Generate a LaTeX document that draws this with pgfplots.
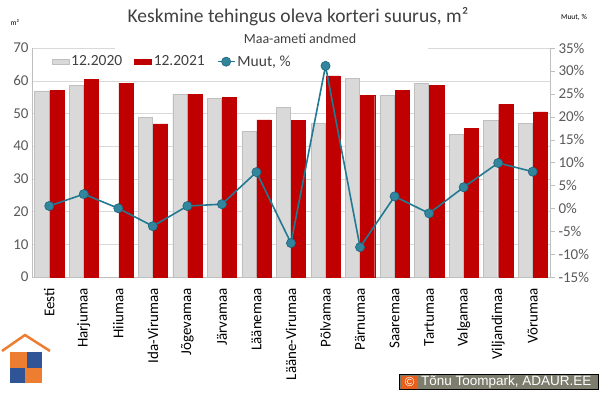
\documentclass[border=0pt]{standalone}
\usepackage{fontspec}
\setmainfont{Carlito}
\newfontfamily\cfont{Liberation Sans}
\usepackage{pgfplots}
\pgfplotsset{compat=1.18}
\definecolor{cgray}{HTML}{D9D9D9}
\definecolor{cgrayb}{HTML}{BFBFBF}
\definecolor{cred}{HTML}{C00000}
\definecolor{cline}{RGB}{33,122,145}
\definecolor{cmark}{RGB}{49,133,156}
\definecolor{cmarkb}{RGB}{30,100,122}
\definecolor{ctxt}{HTML}{404040}
\definecolor{ctick}{HTML}{595959}
\definecolor{cgrid}{HTML}{D9D9D9}
\definecolor{corange}{RGB}{237,125,49}
\definecolor{cblue}{RGB}{47,85,151}
\definecolor{cbox}{RGB}{125,125,110}
\definecolor{ccopy}{RGB}{232,96,28}
\begin{document}
\begin{tikzpicture}
\path[use as bounding box] (0pt,0pt) rectangle (600pt,392pt);
\begin{axis}[
  at={(32pt,115pt)}, anchor=south west, scale only axis,
  width=518pt, height=229pt,
  xmin=-0.5, xmax=14.5, ymin=0, ymax=70,
  ytick={0,10,...,70},
  xtick={0,...,14},
  xticklabels={Eesti,Harjumaa,Hiiumaa,Ida-Virumaa,Jõgevamaa,Järvamaa,Läänemaa,Lääne-Virumaa,Põlvamaa,Pärnumaa,Saaremaa,Tartumaa,Valgamaa,Viljandimaa,Võrumaa},
  xticklabel style={rotate=90, anchor=east, font=\fontsize{15}{17}\selectfont, text=black, inner xsep=11pt},
  yticklabel style={font=\fontsize{15}{17}\selectfont, text=ctick},
  /pgf/number format/assume math mode=true,
  ybar=1pt, bar width=0.41,
  axis x line*=bottom, axis y line*=left,
  axis line style={draw=cgrayb},
  major tick length=0pt,
  ymajorgrids, grid style={draw=cgrid},
]
\addplot[fill=cgray, draw=cgrayb] coordinates {(0,56.9) (1,58.6) (3,48.7) (4,55.9) (5,54.6) (6,44.5) (7,51.9) (8,47.1) (9,60.8) (10,55.6) (11,59.2) (12,43.6) (13,47.9) (14,46.9)};
\addplot[fill=cred, draw=cred] coordinates {(0,57.0) (1,60.4) (2,59.3) (3,46.8) (4,55.9) (5,55.0) (6,48.0) (7,47.8) (8,61.5) (9,55.6) (10,57.0) (11,58.5) (12,45.5) (13,52.8) (14,50.5)};
\end{axis}
\fill[white] (115pt,341pt) rectangle (428pt,347pt);
\begin{axis}[
  at={(32pt,115pt)}, anchor=south west, scale only axis,
  width=518pt, height=229pt,
  xmin=-0.5, xmax=14.5, ymin=-15, ymax=35,
  ytick={-15,-10,...,35},
  yticklabel={\pgfmathprintnumber{\tick}\%},
  yticklabel style={font=\fontsize{15}{17}\selectfont, text=ctick},
  /pgf/number format/assume math mode=true,
  axis y line*=right, axis x line=none,
  axis line style={draw=cgrayb},
  ytick style={draw=cgrayb},
  major tick length=5pt, tick align=outside,
  legend style={at={(0.032,0.985)}, anchor=north west, draw=none, fill=none,
    font=\fontsize{15.5}{17}\selectfont, text=ctxt,
    /tikz/every even column/.append style={column sep=10pt}},
  legend columns=-1,
]
\addlegendimage{area legend, fill=cgray, draw=cgrayb}
\addlegendentry{12.2020}
\addlegendimage{area legend, fill=cred, draw=cred}
\addlegendentry{12.2021}
\addplot[color=cline, line width=1.6pt, mark=*, mark size=4.6pt,
  mark options={fill=cmark, draw=cmarkb, line width=0.6pt}]
  coordinates {(0,0.5) (1,3.1) (2,0) (3,-3.9) (4,0.5) (5,0.9) (6,7.9) (7,-7.6) (8,31.1) (9,-8.5) (10,2.6) (11,-1.1) (12,4.6) (13,9.9) (14,8.0)};
\addlegendentry{Muut, \%}
\end{axis}
% titles
\node[text=ctxt, font=\fontsize{19.5}{21}\selectfont] at (298pt,375pt) {Keskmine tehingus oleva korteri suurus, m²};
\node[text=ctxt, font=\fontsize{14}{16}\selectfont] at (300pt,353pt) {Maa-ameti andmed};
\node[text=black, font=\fontsize{7.5}{9}\selectfont] at (15pt,369pt) {m²};
\node[text=black, font=\fontsize{7.5}{9}\selectfont] at (574pt,375pt) {Muut, \%};
% logo
\fill[corange] (10pt,24pt) rectangle (27pt,40pt);
\fill[cblue] (27pt,24pt) rectangle (42pt,40pt);
\fill[cblue] (10pt,9pt) rectangle (25pt,24pt);
\fill[corange] (25pt,9pt) rectangle (42pt,24pt);
\draw[corange, line width=2.5pt] (2pt,41pt) -- (25pt,57pt) -- (50pt,41pt);
% copyright
\fill[black] (399pt,2pt) rectangle (599pt,18pt);
\fill[cbox] (400pt,3pt) rectangle (598pt,17pt);
\fill[ccopy] (401.5pt,3.5pt) rectangle (418pt,16.5pt);
\node[text=white, font=\cfont\fontsize{13}{14}\selectfont, inner sep=0pt] at (409.7pt,10pt) {©};
\node[text=white, font=\cfont\fontsize{13.5}{14}\selectfont, inner sep=0pt, anchor=west] at (421pt,10pt) {Tõnu Toompark, ADAUR.EE};
\end{tikzpicture}
\end{document}
